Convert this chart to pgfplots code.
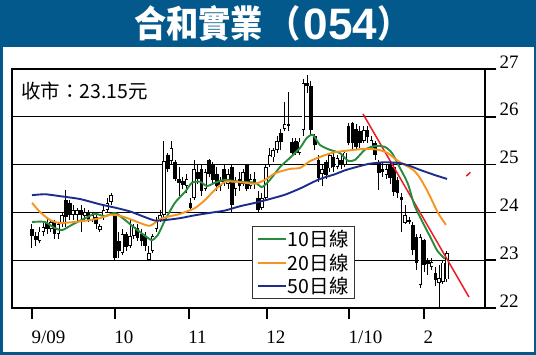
\documentclass[border=0pt]{standalone}
\usepackage{fontspec}
\setmainfont{Liberation Serif}
\newfontfamily\cjk{Noto Sans CJK TC}
\newfontfamily\digitfont{Liberation Sans}
\usepackage{graphicx}
\usepackage{pgfplots}
\pgfplotsset{compat=1.18}
\usepackage{pgfplotstable}
\definecolor{titleblue}{RGB}{4,89,140}
\definecolor{magreen}{RGB}{40,140,60}
\definecolor{maorange}{RGB}{247,148,30}
\definecolor{manavy}{RGB}{30,45,140}
\definecolor{trendred}{RGB}{237,28,36}

\pgfplotstableread{
x o h l c
2 23.40 23.70 23.35 23.60
3 23.60 23.80 23.50 23.70
5 23.65 23.85 23.60 23.80
7 23.55 23.80 23.45 23.75
8 23.75 24.00 23.70 23.95
11 23.95 24.15 23.85 24.05
12 23.95 24.10 23.80 24.05
14 23.92 24.10 23.85 24.00
16 23.85 24.00 23.80 23.95
18 23.64 23.75 23.60 23.72
19 23.90 24.15 23.85 24.05
20 24.05 24.30 24.00 24.20
21 24.22 24.40 24.15 24.36
24 23.15 23.65 23.10 23.55
26 23.30 23.85 23.25 23.50
27 23.50 23.75 23.45 23.70
31 23.00 23.30 22.98 23.15
32 23.20 23.55 23.15 23.50
33 23.65 23.90 23.60 23.85
34 23.85 24.05 23.80 23.95
35 23.95 25.50 23.90 25.08
37 25.08 25.50 25.00 25.35
41 24.55 24.80 24.40 24.70
43 24.30 25.10 24.25 24.90
46 24.50 24.90 24.45 24.85
50 24.55 24.75 24.45 24.65
52 24.60 24.90 24.50 24.80
54 24.50 24.75 24.35 24.65
56 24.60 24.90 24.55 24.85
58 24.55 24.80 24.50 24.70
61 24.10 24.40 24.05 24.30
62 24.30 25.00 24.25 24.95
63 25.00 25.35 24.95 25.20
64 25.15 25.35 25.05 25.30
65 25.30 25.60 25.25 25.50
67 25.75 26.30 25.70 25.85
71 25.25 25.55 25.20 25.48
72 25.72 26.80 25.60 26.70
77 24.80 25.00 24.55 24.90
79 24.92 25.25 24.85 25.20
81 24.95 25.20 24.90 25.14
83 25.00 25.30 24.95 25.25
88 25.50 25.80 25.45 25.72
90 25.37 25.60 25.30 25.52
94 24.78 25.00 24.70 24.90
99 23.78 24.15 23.75 23.95
103 22.48 23.55 22.42 23.49
106 22.86 23.05 22.80 22.96
108 22.52 22.90 22.00 22.62
109 22.55 23.00 22.50 22.95
110 22.60 23.20 22.55 23.15
}\candUp

\pgfplotstableread{
x o h l c
0 23.65 23.75 23.26 23.50
1 23.50 23.60 23.30 23.42
4 23.78 23.90 23.55 23.65
6 23.80 23.85 23.45 23.55
9 24.25 24.47 23.70 23.90
10 24.20 24.25 23.85 23.95
13 24.05 24.15 23.60 23.95
15 24.00 24.05 23.80 23.85
17 23.90 24.00 23.65 23.75
22 23.95 24.00 23.00 23.05
23 23.40 23.60 23.05 23.20
25 23.55 23.60 23.20 23.28
28 23.68 23.75 23.40 23.46
29 23.55 23.65 23.30 23.40
30 23.50 23.60 23.20 23.30
36 25.20 25.25 24.85 24.90
38 25.05 25.10 24.65 24.70
39 24.70 24.95 24.35 24.62
40 24.66 24.75 24.50 24.58
42 24.20 24.30 24.05 24.10
44 24.85 25.00 24.60 24.70
45 24.90 25.00 24.35 24.45
47 25.10 25.12 24.75 24.80
48 25.00 25.05 24.60 24.68
49 24.80 24.95 24.45 24.55
51 24.90 25.00 24.55 24.64
53 24.95 25.00 24.00 24.15
55 24.70 24.85 24.45 24.55
57 25.00 25.02 24.45 24.50
59 24.70 24.85 24.50 24.60
60 24.30 24.45 24.00 24.05
66 25.67 25.75 25.30 25.47
68 25.85 26.52 25.70 25.80
69 25.47 25.55 25.20 25.24
70 25.50 25.55 25.20 25.25
73 26.70 26.87 26.50 26.64
74 26.65 26.75 25.60 25.72
75 25.60 25.65 25.30 25.40
76 25.10 25.20 24.63 24.72
78 25.05 25.10 24.70 24.78
80 25.15 25.30 24.85 24.95
82 25.10 25.20 24.90 25.00
84 25.80 25.87 25.40 25.45
85 25.87 25.90 25.30 25.45
86 25.75 25.85 25.30 25.37
87 25.70 25.80 25.35 25.45
89 25.72 25.80 25.45 25.58
91 25.45 25.50 25.10 25.20
92 25.03 25.10 24.47 24.82
93 24.90 25.05 24.75 24.85
95 25.00 25.05 24.60 24.72
96 24.95 25.05 24.35 24.43
97 24.68 24.75 24.30 24.40
98 24.32 24.40 23.60 24.26
100 23.85 23.90 23.75 23.80
101 23.74 23.80 23.10 23.21
102 23.49 23.55 22.80 22.94
104 23.42 23.45 22.75 22.90
105 23.00 23.05 22.70 22.92
107 22.73 22.86 22.45 22.59
}\candDown

\begin{document}
\begin{tikzpicture}
\useasboundingbox (0bp,0bp) rectangle (536bp,355bp);
\fill[titleblue] (0bp,0bp) rectangle (536bp,355bp);
\fill[white] (2.5bp,2.5bp) rectangle (533.5bp,308bp);
\node[anchor=base west, inner sep=0pt, text=white] at (134bp,317.6bp)
  {\scalebox{0.87}[1]{\cjk\bfseries\fontsize{37bp}{37bp}\selectfont 合和實業\hspace{6bp}（\hspace{4bp}\raisebox{-2.5bp}{\scalebox{1.15}[1]{\digitfont\bfseries\fontsize{44bp}{44bp}\selectfont 054}}）}};
\begin{axis}[
  at={(12bp,47bp)}, anchor=south west,
  scale only axis, width=473bp, height=239bp,
  xmin=-5.305, xmax=120.16, ymin=22, ymax=27,
  axis line style={line width=1.6bp, black},
  ymajorgrids, grid style={black, line width=1.1bp},
  ytick={22,23,24,25,26,27}, ytick pos=right, yticklabel pos=right,
  xtick={0,22,41.6,62.3,84.1,104},
  xticklabels={9/09,10,11,12,1/10,2}, xtick pos=bottom,
  tick align=outside, major tick length=11bp,
  tick style={black, line width=1.6bp},
  ticklabel style={font=\fontsize{19bp}{19bp}\selectfont},
  yticklabel style={yshift=7bp},
  xticklabel style={anchor=north west, xshift=-4bp, yshift=-8bp},
  /pgf/number format/assume math mode=true,
  legend style={at={(0.5074,0.0377)}, anchor=south west,
    draw=black!80, line width=0.8bp, fill=white,
    font=\cjk\fontsize{19.5bp}{19.5bp}\selectfont,
    inner xsep=4bp, inner ysep=2bp, row sep=2.5bp,
    nodes={inner sep=1.5bp}},
  legend cell align=left,
  legend image code/.code={\draw[#1, line width=2.2bp] (0bp,0bp) -- (24bp,0bp); \path (0bp,0bp) -- (28bp,0bp);},
]
% wicks
\addplot[forget plot, black, line width=1bp, -, mark=none, quiver={u=0, v=\thisrow{h}-\thisrow{l}}]
  table[x=x, y=l] {\candDown};
\addplot[forget plot, black, line width=1bp, -, mark=none, quiver={u=0, v=\thisrow{h}-\thisrow{l}}]
  table[x=x, y=l] {\candUp};
% black bodies
\addplot[forget plot, black, line width=3.6bp, -, mark=none, quiver={u=0, v=\thisrow{o}-\thisrow{c}}]
  table[x=x, y=c] {\candDown};
% hollow bodies
\addplot[forget plot, black, line width=3.6bp, -, mark=none, quiver={u=0, v=\thisrow{c}-\thisrow{o}}]
  table[x=x, y=o] {\candUp};
\addplot[forget plot, white, line width=2.0bp, -, mark=none, quiver={u=0, v=\thisrow{c}-\thisrow{o}-0.034}]
  table[x=x, y expr=\thisrow{o}+0.017] {\candUp};
% trend line
\addplot[forget plot, trendred, line width=1.5bp] coordinates {(87.8,26.06) (115.9,22.23)};
\addplot[forget plot, trendred, line width=1.5bp] coordinates {(115.2,24.76) (116.3,24.84)};
% moving averages
\addplot[magreen, line width=1.9bp, smooth, tension=0.4] coordinates {
(0,23.80)(3.4,23.80)(6.1,23.67)(8,23.63)(10.6,23.74)(14.1,23.88)(16.7,23.97)(19.4,23.92)(22,23.99)(24.7,23.84)(27.3,23.67)(30,23.51)(31.8,23.42)(33.4,23.53)(35.3,23.84)(37.9,24.20)(40.6,24.43)(42.4,24.62)(44.6,24.64)(46.4,24.55)(48.5,24.62)(51.2,24.68)(55.2,24.64)(59.2,24.62)(61,24.53)(63.1,24.68)(65.8,24.95)(68.4,25.14)(71.1,25.35)(72.9,25.56)(74.5,25.62)(76.4,25.41)(79,25.31)(81.7,25.24)(83.8,25.08)(85.7,25.10)(88.3,25.31)(91,25.39)(93.6,25.37)(95.5,25.24)(97.6,24.93)(99.7,24.60)(101.6,24.12)(105.6,23.49)(107.5,23.20)(109.5,23.03)};
\addlegendentry{10日線}
\addplot[maorange, line width=1.9bp, smooth, tension=0.4] coordinates {
(0,24.20)(2.1,24.01)(4.8,23.84)(7.4,23.78)(11.4,23.80)(15.4,23.84)(18,23.88)(20.7,23.95)(23.3,23.93)(26,23.86)(28.6,23.78)(31.3,23.72)(34,23.86)(36.6,23.92)(39.3,23.97)(43.2,24.09)(45.9,24.26)(48.5,24.47)(51.2,24.64)(53.8,24.64)(56.5,24.62)(59.2,24.60)(61.8,24.68)(64.5,24.82)(68.4,24.91)(71.1,24.93)(73.7,25.07)(76.4,25.16)(80.4,25.26)(88.3,25.33)(91.8,25.31)(94.4,25.24)(97,25.08)(101.1,24.89)(102.9,24.72)(105,24.43)(107.7,23.99)(109.8,23.74)};
\addlegendentry{20日線}
\addplot[manavy, line width=1.9bp, smooth, tension=0.4] coordinates {
(0,24.36)(3.4,24.38)(7.4,24.34)(12.7,24.28)(18,24.17)(22,24.10)(26,24.02)(30,23.90)(32.6,23.83)(35.3,23.84)(39.3,23.88)(43.2,23.94)(47.2,23.99)(51.2,24.04)(55.2,24.13)(59.2,24.20)(63.1,24.28)(67.1,24.37)(71.1,24.50)(73.7,24.60)(76.4,24.70)(80.4,24.80)(83,24.88)(87,24.97)(89.7,25.02)(93.6,25.05)(97.6,25.03)(100.3,24.97)(102.9,24.89)(106.9,24.78)(110.1,24.70)};
\addlegendentry{50日線}
\end{axis}
\node[anchor=west, inner sep=0pt] at (21bp,264bp) {\cjk\fontsize{19.5bp}{19.5bp}\selectfont 收市：23.15元};
\end{tikzpicture}
\end{document}
